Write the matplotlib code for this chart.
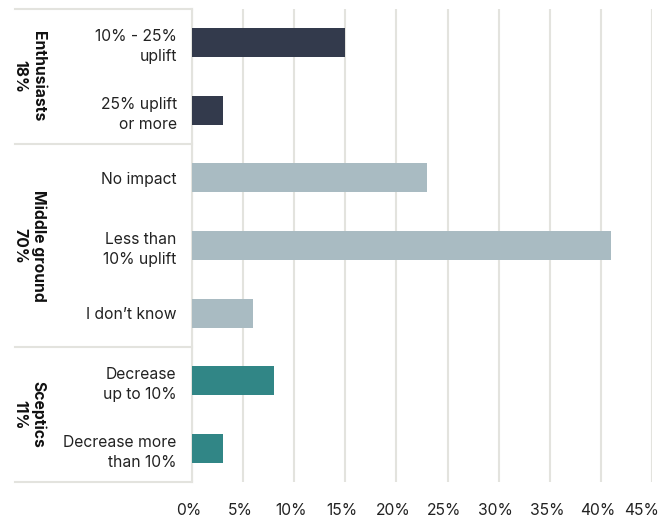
import matplotlib.pyplot as plt
import matplotlib.transforms as mtransforms

plt.rcParams['font.family'] = ['Inter', 'DejaVu Sans']

# answers, top to bottom
answers = ['10% - 25%\nuplift', '25% uplift\nor more',
           'No impact', 'Less than\n10% uplift', 'I don\u2019t know',
           'Decrease\nup to 10%', 'Decrease more\nthan 10%']
shares = [15, 3, 23, 41, 6, 8, 3]
segment_of = [0, 0, 1, 1, 1, 2, 2]

segments = ['Enthusiasts\n18%', 'Middle ground\n70%', 'Sceptics\n11%']
segment_colors = ['#333a4c', '#a9bbc2', '#318686']

xticks = [0, 5, 10, 15, 20, 25, 30, 35, 40, 45]

fig = plt.figure(figsize=(6.61, 5.17), dpi=100)
ax = fig.add_axes([192 / 661, 1 - 482 / 517, 460 / 661, 473 / 517])

ypos = list(range(len(answers)))
ax.barh(ypos, shares, height=0.43,
        color=[segment_colors[s] for s in segment_of], zorder=3)

ax.set_xlim(0, 45)
ax.set_ylim(len(answers) - 0.5, -0.5)
ax.set_xticks(xticks)
ax.set_xticklabels([f'{t}%' for t in xticks], fontsize=11.3, color='#222222')
ax.tick_params(axis='x', length=0, pad=15)
# nudge the percentage labels a little to the left of their gridlines,
# the last one a bit more so it stays inside the figure
xlabels = ax.get_xticklabels()
for i, lab in enumerate(xlabels):
    dx = -10 if i == len(xlabels) - 1 else -3
    shift = mtransforms.ScaledTranslation(dx / 100, 0, fig.dpi_scale_trans)
    lab.set_transform(lab.get_transform() + shift)

ax.set_yticks(ypos)
ax.set_yticklabels(answers, fontsize=11.3, color='#222222', ha='right',
                   linespacing=1.4)
ax.tick_params(axis='y', length=0, pad=11)

ax.grid(axis='x', color='#e3e3de', linewidth=1.5, zorder=0)
for side in ['top', 'right', 'bottom']:
    ax.spines[side].set_visible(False)
ax.spines['left'].set_color('#e3e3de')
ax.spines['left'].set_linewidth(1.5)

# segment separators and labels to the left of the axis
trans = mtransforms.blended_transform_factory(ax.transAxes, ax.transData)
left_edge = (15 - 192) / 460
bounds = [-0.5]
for i in range(1, len(segment_of)):
    if segment_of[i] != segment_of[i - 1]:
        bounds.append(i - 0.5)
bounds.append(len(answers) - 0.5)
for b in bounds:
    ax.plot([left_edge, 0], [b, b], transform=trans, color='#e3e3de',
            linewidth=1.5, clip_on=False)
for k, name in enumerate(segments):
    mid = (bounds[k] + bounds[k + 1]) / 2
    ax.text((29 - 192) / 460, mid, name, transform=trans, rotation=-90,
            ha='center', va='center', fontsize=11.3, fontweight='bold',
            color='#111111', linespacing=1.3)

fig.savefig('out.png', dpi=100)
